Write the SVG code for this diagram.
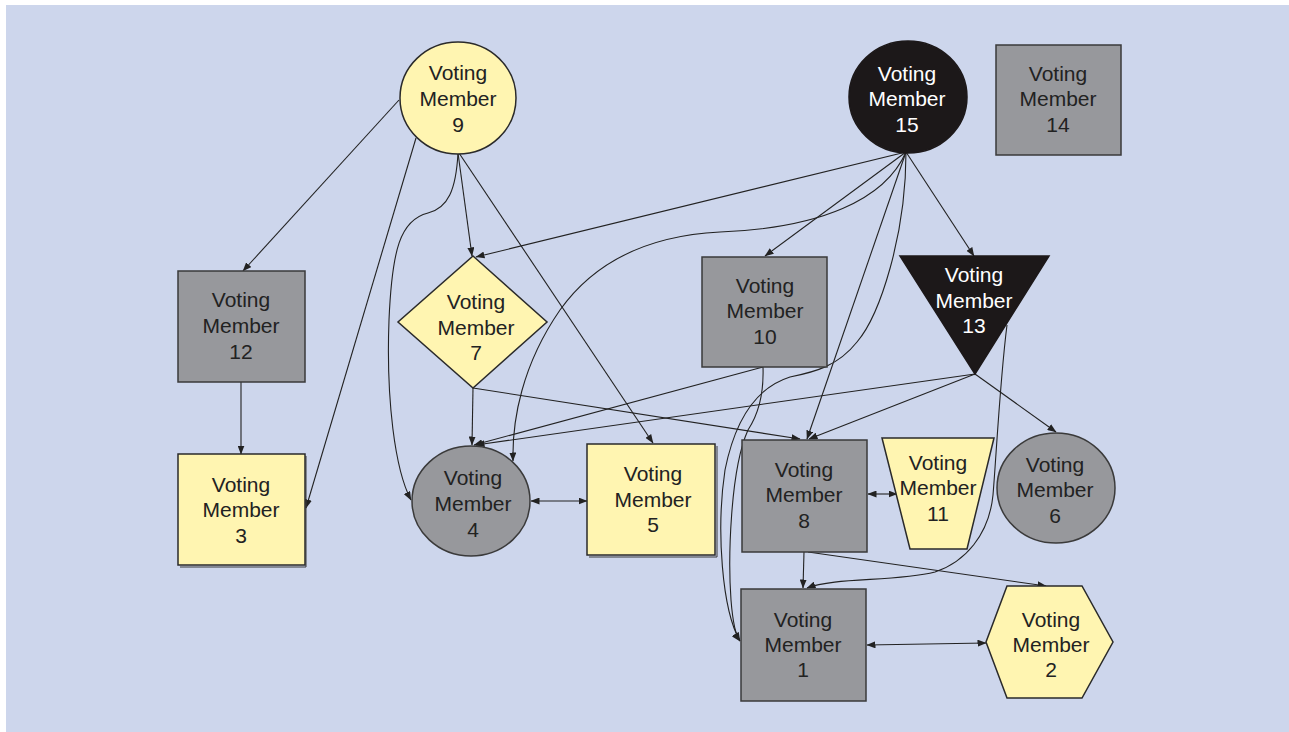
<svg xmlns="http://www.w3.org/2000/svg" width="1289" height="732" viewBox="0 0 1289 732">
<style>
.yel{fill:#fff5b1;stroke:#2a2a2a;stroke-width:1.5}
.gry{fill:#97989c;stroke:#3a3a3a;stroke-width:1.5}
.blk{fill:#1c1819;stroke:#1c1819;stroke-width:1.5}
.shd{fill:none;stroke:#3a3a3a;stroke-width:1}
text{font-family:"Liberation Sans",Arial,sans-serif;font-size:21px;text-anchor:middle;fill:#222}
text.w{fill:#ffffff}
.edge{fill:none;stroke:#222;stroke-width:1.1;marker-end:url(#ah)}
.bi{marker-start:url(#ah)}
</style>
<defs>
<marker id="ah" markerUnits="userSpaceOnUse" markerWidth="9" markerHeight="7" refX="8.5" refY="3.5" orient="auto-start-reverse">
<path d="M0,0 L9,3.5 L0,7 z" fill="#222"/>
</marker>
</defs>
<rect x="6" y="5" width="1283" height="727" fill="#cdd6ec"/>

<g id="connectors">
<path class="edge" d="M399,100 L243,271"/>
<path class="edge" d="M416,138 L306,508"/>
<path class="edge" d="M458,153 C456,190 448,208 428,213 C400,220 392,250 389,320 C386,400 395,470 411,500"/>
<path class="edge" d="M458,153 L472,256"/>
<path class="edge" d="M459,153 L653,443"/>
<path class="edge" d="M906,152 L476,257"/>
<path class="edge" d="M906,152 C885,200 820,228 720,232 C640,236 590,268 560,310 C522,365 512,420 513,461"/>
<path class="edge" d="M906,152 L765,256"/>
<path class="edge" d="M906,152 L974,256"/>
<path class="edge" d="M906,152 L807,439"/>
<path class="edge" d="M906,152 C906,235 880,315 857,342 C838,366 815,372 790,377 C755,388 735,420 725,470 C716,530 722,610 740,641"/>
<path class="edge" d="M763,367 C764,395 758,415 748,430 C730,470 728,560 731,600 C733,625 736,636 740,641"/>
<path class="edge" d="M763,367 L474,445"/>
<path class="edge" d="M975,374 L476,445"/>
<path class="edge" d="M473,388 L800,439"/>
<path class="edge" d="M473,388 L472,445"/>
<path class="edge" d="M975,374 L809,439"/>
<path class="edge" d="M975,374 L1056,432"/>
<path class="edge" d="M1007,325 C1000,380 996,460 993,495 C989,535 965,562 935,572 C895,582 835,577 807,588"/>
<path class="edge" d="M804,552 L803,588"/>
<path class="edge" d="M808,552 L1046,586"/>
<path class="edge bi" d="M868,494 L897,494"/>
<path class="edge bi" d="M531,501 L587,501"/>
<path class="edge bi" d="M867,645 L986,643"/>
<path class="edge" d="M241,382 L241,454"/>
</g>

<g id="member9">
<ellipse class="yel" cx="458" cy="98" rx="58" ry="56"/>
<text x="458" y="80">Voting<tspan x="458" dy="26">Member</tspan><tspan x="458" dy="26">9</tspan></text>
</g>
<g id="member15">
<ellipse class="blk" cx="908" cy="97" rx="59" ry="56"/>
<text class="w" x="907" y="81">Voting<tspan x="907" dy="25">Member</tspan><tspan x="907" dy="26">15</tspan></text>
</g>
<g id="member14">
<rect class="gry" x="996" y="45" width="125" height="110"/>
<text x="1058" y="81">Voting<tspan x="1058" dy="25">Member</tspan><tspan x="1058" dy="26">14</tspan></text>
</g>
<g id="member12">
<rect class="gry" x="178" y="271" width="127" height="111"/>
<text x="241" y="307">Voting<tspan x="241" dy="26">Member</tspan><tspan x="241" dy="26">12</tspan></text>
</g>
<g id="member3">
<path class="shd" d="M180,567 L306,567 L306,456"/>
<rect class="yel" x="178" y="454" width="127" height="111"/>
<text x="241" y="492">Voting<tspan x="241" dy="25">Member</tspan><tspan x="241" dy="26">3</tspan></text>
</g>
<g id="member7">
<polygon class="yel" points="473,256 547,322 473,388 398,322"/>
<text x="476" y="309">Voting<tspan x="476" dy="26">Member</tspan><tspan x="476" dy="25">7</tspan></text>
</g>
<g id="member4">
<ellipse class="gry" cx="471" cy="501" rx="59" ry="55"/>
<text x="473" y="485">Voting<tspan x="473" dy="26">Member</tspan><tspan x="473" dy="26">4</tspan></text>
</g>
<g id="member5">
<path class="shd" d="M589,557 L717,557 L717,446"/>
<rect class="yel" x="587" y="444" width="128" height="111"/>
<text x="653" y="481">Voting<tspan x="653" dy="26">Member</tspan><tspan x="653" dy="25">5</tspan></text>
</g>
<g id="member10">
<rect class="gry" x="702" y="257" width="125" height="110"/>
<text x="765" y="293">Voting<tspan x="765" dy="25">Member</tspan><tspan x="765" dy="26">10</tspan></text>
</g>
<g id="member13">
<polygon class="blk" points="900,256 1049,256 975,374"/>
<text class="w" x="974" y="282">Voting<tspan x="974" dy="26">Member</tspan><tspan x="974" dy="25">13</tspan></text>
</g>
<g id="member8">
<rect class="gry" x="742" y="440" width="125" height="112"/>
<text x="804" y="477">Voting<tspan x="804" dy="25">Member</tspan><tspan x="804" dy="26">8</tspan></text>
</g>
<g id="member11">
<polygon class="yel" points="882,438 994,438 967,549 910,549"/>
<text x="938" y="470">Voting<tspan x="938" dy="25">Member</tspan><tspan x="938" dy="26">11</tspan></text>
</g>
<g id="member6">
<ellipse class="gry" cx="1056" cy="488" rx="59" ry="55"/>
<text x="1055" y="472">Voting<tspan x="1055" dy="25">Member</tspan><tspan x="1055" dy="26">6</tspan></text>
</g>
<g id="member1">
<rect class="gry" x="741" y="589" width="125" height="112"/>
<text x="803" y="627">Voting<tspan x="803" dy="25">Member</tspan><tspan x="803" dy="25">1</tspan></text>
</g>
<g id="member2">
<polygon class="yel" points="986,642 1007,586 1082,586 1113,642 1082,698 1007,698"/>
<text x="1051" y="627">Voting<tspan x="1051" dy="25">Member</tspan><tspan x="1051" dy="25">2</tspan></text>
</g>
</svg>
